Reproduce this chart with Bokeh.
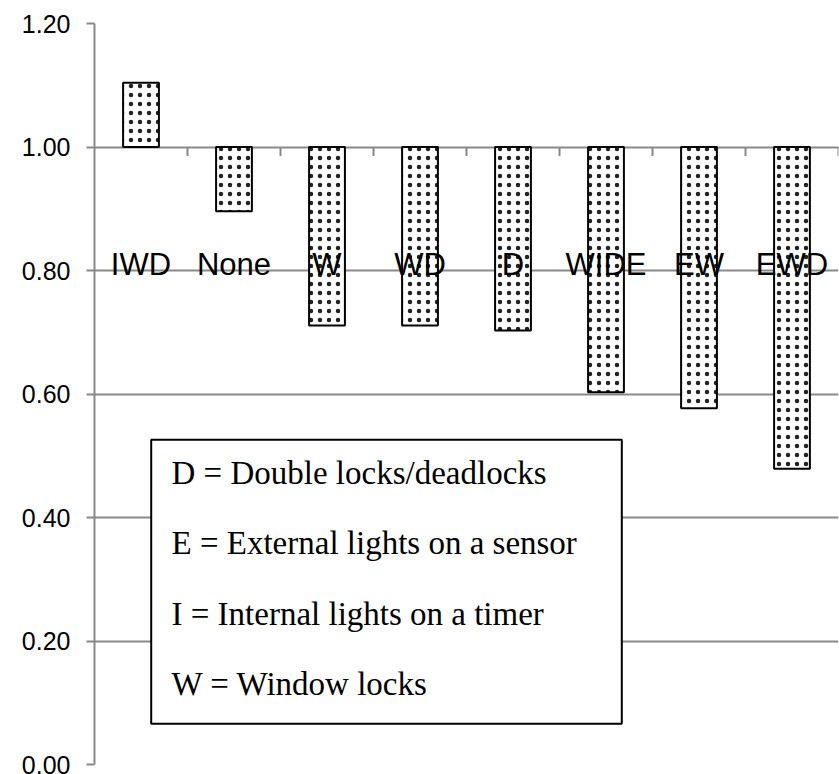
from bokeh.plotting import figure
from bokeh.models import FactorRange, Range1d, BoxAnnotation, Label, FixedTicker, NumeralTickFormatter, ColumnDataSource
from bokeh.core.properties import value
from bokeh.embed import file_html
from bokeh.resources import INLINE

# ---- data ----
categories = ["IWD", "None", "W", "WD", "D", "WIDE", "EW", "EWD"]
values = [1.104, 0.896, 0.711, 0.711, 0.703, 0.603, 0.577, 0.479]
baseline = 1.0
y_ticks = [0.0, 0.2, 0.4, 0.6, 0.8, 1.0, 1.2]
label_level = 0.8
key_lines = [
    "D = Double locks/deadlocks",
    "E = External lights on a sensor",
    "I = Internal lights on a timer",
    "W = Window locks",
]

GRAY = "#898989"
px_per_unit = 741 / 1.2

p = figure(
    x_range=FactorRange(*categories),
    y_range=Range1d(0, 1.2),
    width=839, height=774,
    output_backend="svg", toolbar_location=None,
    x_axis_location=None,
    min_border_left=94, min_border_right=1, min_border_top=23, min_border_bottom=10,
)
p.outline_line_color = None
p.background_fill_color = "white"
p.border_fill_color = "white"

p.xgrid.visible = False
p.ygrid.ticker = FixedTicker(ticks=y_ticks)
p.ygrid.grid_line_color = GRAY
p.ygrid.grid_line_width = 2

ax = p.yaxis[0]
ax.ticker = FixedTicker(ticks=y_ticks)
ax.formatter = NumeralTickFormatter(format="0.00")
ax.major_label_text_font = "Liberation Sans"
ax.major_label_text_font_size = "25px"
ax.major_label_text_color = "black"
ax.axis_line_color = GRAY
ax.axis_line_width = 2
ax.major_tick_line_color = GRAY
ax.major_tick_line_width = 2
ax.major_tick_out = 8
ax.major_tick_in = 0
ax.minor_tick_line_color = None
ax.major_label_standoff = 16

src = ColumnDataSource(dict(cat=categories, val=values))
p.vbar(x="cat", top="val", bottom=baseline, width=0.385, source=src,
       fill_color="white", line_color="black", line_width=2,
       hatch_pattern="dot", hatch_scale=9, hatch_color="#222222", hatch_weight=1.5)

# category axis tick marks (between categories) on the 1.00 line
bounds = [i + 1 for i in range(len(categories))]
tick_len = 9 / px_per_unit
p.segment(x0=bounds, y0=[baseline] * len(bounds), x1=bounds, y1=[baseline - tick_len] * len(bounds),
          line_color=GRAY, line_width=2)

# category labels
p.text(x=categories, y=[label_level] * len(categories), text=categories,
       text_align="center", text_baseline="alphabetic", y_offset=-6,
       text_font=value("Liberation Sans"), text_font_size="31px", text_color="black")

# key box
cat_px = 744 / len(categories)
def sx(px):
    return (px - 94) / cat_px
def sy(px):
    return (764 - px) / px_per_unit

box = BoxAnnotation(left=sx(150.7), right=sx(621.3), top=sy(439.3), bottom=sy(723.3),
                    fill_color="white", fill_alpha=1.0, line_color="black", line_width=2,
                    line_alpha=1.0)
p.add_layout(box)
for i, t in enumerate(key_lines):
    p.add_layout(Label(x=sx(171), y=sy(472.3 + 70.5 * i), text=t,
                       text_font="Liberation Serif", text_font_size="33px",
                       text_color="black", text_baseline="alphabetic"))

open("out.html", "w").write(file_html(p, INLINE))
